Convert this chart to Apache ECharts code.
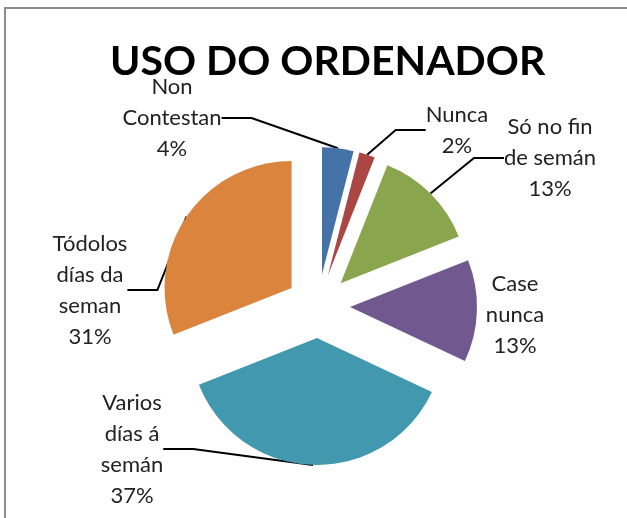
<!DOCTYPE html>
<html>
<head>
<meta charset="utf-8">
<script src="https://cdn.jsdelivr.net/npm/echarts@6/dist/echarts.min.js"></script>
<style>
  html, body { margin: 0; padding: 0; background: #fff; }
  #chart { width: 627px; height: 518px; }
</style>
</head>
<body>
<div id="chart"></div>
<script>
const categories = [
  "Non\nContestan",
  "Nunca",
  "Só no fin\nde semán",
  "Case\nnunca",
  "Varios\ndías á\nsemán",
  "Tódolos\ndías da\nseman"
];
const percents = [4, 2, 13, 13, 37, 31];
const colors = ["#4572A7", "#AA4643", "#89A54E", "#71588F", "#4198AF", "#DB843D"];

// label block centres, as Excel placed them
const labelPos = [
  [172, 118], [457, 130], [550, 158], [515, 315], [132, 449], [90, 290]
];

const pieCenter = [318, 306];
const pieRadius = 127;
const explode = 32;

const chart = echarts.init(document.getElementById("chart"));

// Excel explodes every slice; one pie per slice, pushed out along its middle angle
const total = percents.reduce((a, b) => a + b, 0);
let before = 0;
const series = percents.map((v, i) => {
  const mid = (before + v / 2) / total * Math.PI * 2;
  before += v;
  return {
    type: "pie",
    silent: true,
    center: [pieCenter[0] + Math.sin(mid) * explode, pieCenter[1] - Math.cos(mid) * explode],
    radius: pieRadius,
    startAngle: 90,
    avoidLabelOverlap: false,
    itemStyle: { borderWidth: 0 },
    data: categories.map((name, j) => ({
      name: name,
      value: percents[j],
      itemStyle: { color: j === i ? colors[j] : "transparent" },
      label: { show: j === i },
      labelLine: { show: j === i && j !== 3 }
    })),
    label: {
      formatter: "{b}\n{c}%",
      fontFamily: "Lato",
      fontSize: 22,
      lineHeight: 31,
      color: "#222"
    },
    labelLine: { lineStyle: { color: "#000", width: 2 } },
    labelLayout: function (p) {
      const pos = labelPos[p.dataIndex];
      return { x: pos[0], y: pos[1], align: "center", verticalAlign: "middle" };
    }
  };
});

chart.setOption({
  animation: false,
  title: {
    text: "USO DO ORDENADOR",
    left: 105,
    top: 36,
    textStyle: { fontFamily: "Lato", fontWeight: "bold", fontSize: 41, color: "#000" }
  },
  graphic: [{
    type: "rect",
    shape: { x: 5, y: 8, width: 700, height: 600 },
    style: { fill: null, stroke: "#8c8c8c", lineWidth: 2 },
    silent: true
  }],
  series: series
});
</script>
</body>
</html>
